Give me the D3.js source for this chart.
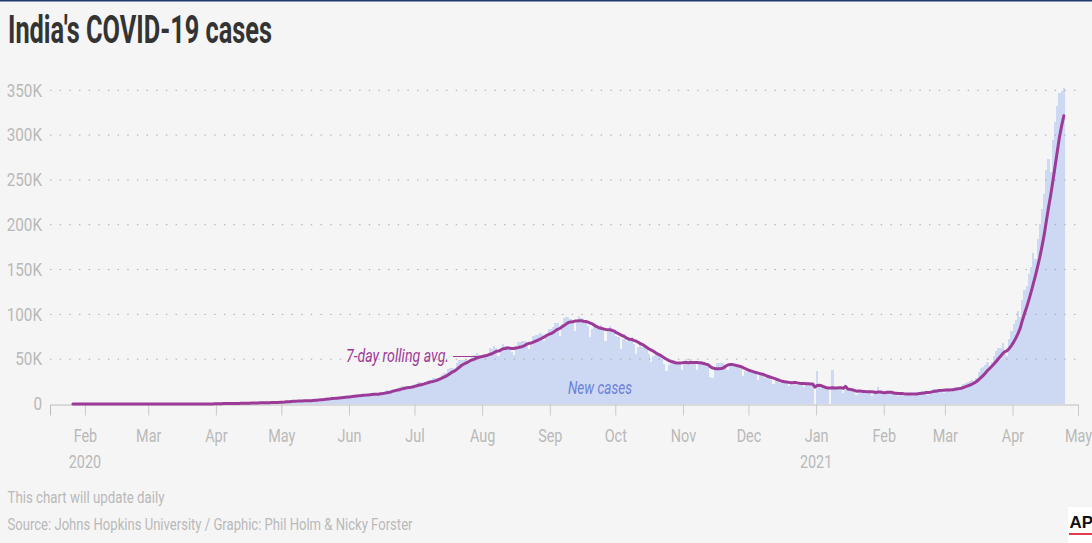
<!DOCTYPE html>
<html><head><meta charset="utf-8">
<script src="https://cdn.jsdelivr.net/npm/d3@7"></script>
<style>
html,body{margin:0;padding:0;background:#f5f5f5;}
svg{display:block;}
</style></head><body>
<svg id="chart" width="1092" height="543"></svg>
<script>
// ---- DATA (daily new cases, first value = seriesStart) ----
const seriesStart = "2020-01-22";
const cases2020Jan = [0,0,0,0,0,0,0,0,1,0];
const cases2020Feb = [0,1,1,0,0,0,0,0,0,0,0,0,0,0,0,0,0,0,0,0,0,0,0,0,0,0,0,0,0];
const cases2020Mar = [1,1,22,2,1,3,5,4,13,6,11,9,20,11,6,23,14,38,50,86,66,103,37,121,70,160,100,74,227,146,601];
const cases2020Apr = [545,478,578,694,481,565,809,591,896,768,758,1248,1034,883,1061,922,1371,1580,1239,1537,1292,1667,1408,1835,1607,1568,1902,1705,1801,2396];
const cases2020May = [2564,2952,3656,2971,3602,3344,3344,3113,4353,3604,3524,3763,3942,3787,4864,5050,4630,6147,5553,5720,6028,6654,6767,6977,6535,6387,7466,7964,8336,8782,8392];
const cases2020Jun = [8171,9633,9851,9887,9971,9983,9987,9985,10956,11458,11929,11502,10667,10032,12881,13586,14516,15413,14821,14933,15968,16922,17296,18552,19906,19459,18522,18653,19148,20903];
const cases2020Jul = [22771,24850,24248,22252,22752,24879,26506,27114,28637,28701,28498,29429,32695,34956,34884,38902,40425,40243,37148,45720,49310,48916,48661,49931,47704,48513,52123,55079,57118,54735,52972];
const cases2020Aug = [52050,52509,56282,62538,61537,64399,62064,53601,60963,66999,64553,65002,63490,57981,55079,64531,69652,68898,69878,70488,69239,61408,67151,75760,77266,76472,78761,78512,69921,78357,83883];
const cases2020Sep = [83341,86432,90632,90802,75809,89706,95735,96551,97570,94372,92071,81911,90123,97894,96424,93337,92605,86961,75083,83347,86508,86052,85362,88600,82170,70589,80472,86821,81484,79476];
const cases2020Oct = [75829,74442,61267,72049,78524,70496,73272,74383,66732,55342,63509,67708,63371,62212,61871,55722,46790,54044,55839,53370,54366,50129,45148,36469,43893,49881,48648,48268,46963,45231,38310];
const cases2020Nov = [46253,50210,47638,50357,45674,45903,38073,44281,47905,44879,44684,41100,30548,29164,38617,45576,45882,46232,45209,44059,37975,44376,44489,43082,41322,41810,38772,31118,36604,35551];
const cases2020Dec = [36595,36652,36011,32981,26567,32080,31521,29398,30006,30254,27071,22065,26382,24010,22890,25152,26624,24337,19556,23950,24712,24500,21000,24200,23000,19000,22500,23800,22000,21500,0];
const cases2021Jan = [36500,20035,18177,16505,16375,18088,0,38000,18139,18222,18645,16311,12584,15968,16946,15590,15158,13788,10064,13823,15223,14545,14256,14849,13203,9102,12689,11666,18855,13083,11427];
const cases2021Feb = [11039,12899,12408,12713,11713,12059,9110,11067,12923,9309,12143,12194,11649,9121,11610,12881,13193,13993,13993,14199,10584,13742,16738,16577,16488,16752,15510,12286];
const cases2021Mar = [14989,17407,16838,18327,18711,18599,15388,17921,22854,23285,24882,25320,26291,24492,28903,35871,39726,40953,43846,46951,40715,47262,53476,59118,62258,62714,68020,56211,53480,72330,81466];
const cases2021Apr = [89129,93249,103558,96982,115736,126789,131968,145384,152879,168912,161736,184372,200739,217353,234692,261500,273810,259170,295041,314835,332730,346786,349691,352991];

const yTickValues = [0,50000,100000,150000,200000,250000,300000,350000];
const yTickLabels = ["0","50K","100K","150K","200K","250K","300K","350K"];
const monthNames = ["Jan","Feb","Mar","Apr","May","Jun","Jul","Aug","Sep","Oct","Nov","Dec"];
const yearTickDates = ["2020-02-01","2021-01-01"];
const yearTickLabels = ["2020","2021"];

const titleText = "India's COVID-19 cases";
const noteText = "This chart will update daily";
const sourceText = "Source: Johns Hopkins University / Graphic: Phil Holm & Nicky Forster";
const avgLabel = "7-day rolling avg.";
const barLabel = "New cases";

// ---- BUILD ----
const allCases = [].concat(cases2020Jan,cases2020Feb,cases2020Mar,cases2020Apr,cases2020May,cases2020Jun,
  cases2020Jul,cases2020Aug,cases2020Sep,cases2020Oct,cases2020Nov,cases2020Dec,
  cases2021Jan,cases2021Feb,cases2021Mar,cases2021Apr);
const start = new Date(seriesStart + "T00:00:00Z");
const daily = allCases.map((v,i)=>({date:d3.utcDay.offset(start,i), value:v}));
const avg = [];
for (let i=4;i<daily.length;i++){
  const w = allCases.slice(Math.max(0,i-6), i+1);
  avg.push({date:daily[i].date, value:d3.mean(w)});
}

const FONT = "'Liberation Sans Narrow', 'Roboto', sans-serif";
const AXIS_COLOR = "#b9b9b9";
const svg = d3.select("#chart");
svg.append("rect").attr("width",1092).attr("height",543).attr("fill","#f5f5f5");
svg.append("rect").attr("x",0).attr("y",0).attr("width",1092).attr("height",1.5).attr("fill","#1e3a6d");

const x = d3.scaleUtc().domain([new Date("2020-01-16T00:00:00Z"), new Date("2021-05-01T00:00:00Z")]).range([50,1078]);
const y = d3.scaleLinear().domain([0,350000]).range([404,90.3]);
const step = x(d3.utcDay.offset(start,1)) - x(start);

// bars
svg.append("g").selectAll("rect").data(daily).join("rect")
  .attr("x",d=>x(d.date))
  .attr("width",d=>x(d3.utcDay.offset(d.date,1))-x(d.date))
  .attr("y",d=>y(d.value))
  .attr("height",d=>y(0)-y(d.value))
  .attr("fill","#cdd8f3")
  .attr("shape-rendering","crispEdges");

// grid
svg.append("g").selectAll("line").data(yTickValues.filter(v=>v>0)).join("line")
  .attr("x1",50).attr("x2",1078)
  .attr("y1",d=>y(d)).attr("y2",d=>y(d))
  .attr("stroke","#a8a8a8").attr("stroke-width",1)
  .attr("stroke-dasharray","1.4 8.26");

// x axis
const xAxis = d3.axisBottom(x)
  .ticks(d3.utcMonth.every(1))
  .tickSize(11)
  .tickPadding(14)
  .tickFormat(d=>monthNames[d.getUTCMonth()]);
const gx = svg.append("g").attr("transform","translate(0,404.5)").call(xAxis);
gx.select(".domain").attr("stroke","#bdbdbd");
gx.selectAll(".tick line").attr("stroke","#c9c9c9");
gx.selectAll(".tick text").attr("fill",AXIS_COLOR).style("font-family",FONT).style("font-size","18px")
  .attr("transform","scale(0.8,1)");
svg.append("g").selectAll("text").data(yearTickDates).join("text")
  .attr("transform",d=>`translate(${x(new Date(d+"T00:00:00Z"))},467.5) scale(0.8,1)`)
  .attr("text-anchor","middle")
  .attr("fill",AXIS_COLOR).style("font-family",FONT).style("font-size","18px")
  .text((d,i)=>yearTickLabels[i]);

// y axis labels
const yAxis = d3.axisLeft(y).tickValues(yTickValues).tickSize(0).tickPadding(8)
  .tickFormat((d,i)=>yTickLabels[i]);
const gy = svg.append("g").attr("transform","translate(50,0)").call(yAxis);
gy.select(".domain").remove();
gy.selectAll(".tick text").attr("fill",AXIS_COLOR).style("font-family",FONT).style("font-size","18px")
  .attr("x",0).attr("transform","translate(-8,0) scale(0.85,1)");

// avg line
svg.append("path").datum(avg)
  .attr("fill","none").attr("stroke","#9c3a98").attr("stroke-width",3)
  .attr("stroke-linejoin","round").attr("stroke-linecap","round")
  .attr("d", d3.line().x(d=>x(d.date)+step/2).y(d=>y(d.value)));

// annotations
svg.append("text").attr("x",449).attr("y",361.5).attr("text-anchor","end")
  .attr("fill","#9c3a98").style("font-family",FONT).style("font-size","18px").style("font-style","italic")
  .attr("textLength",103).attr("lengthAdjust","spacingAndGlyphs").text(avgLabel);
svg.append("line").attr("x1",453).attr("x2",483).attr("y1",356.5).attr("y2",356.5)
  .attr("stroke","#9c3a98").attr("stroke-width",1);
svg.append("text").attr("x",568).attr("y",393.5)
  .attr("fill","#6a80d8").style("font-family",FONT).style("font-size","18px").style("font-style","italic")
  .attr("textLength",64).attr("lengthAdjust","spacingAndGlyphs").text(barLabel);

// title
svg.append("text").attr("x",8).attr("y",42.5)
  .attr("fill","#333333").style("font-family",FONT).style("font-size","38px").style("font-weight","bold")
  .attr("textLength",264).attr("lengthAdjust","spacingAndGlyphs").text(titleText);

// footer
svg.append("text").attr("x",7.5).attr("y",502.5)
  .attr("fill",AXIS_COLOR).style("font-family",FONT).style("font-size","17px")
  .attr("textLength",157).attr("lengthAdjust","spacingAndGlyphs").text(noteText);
svg.append("text").attr("x",7.5).attr("y",530)
  .attr("fill",AXIS_COLOR).style("font-family",FONT).style("font-size","17px")
  .attr("textLength",405).attr("lengthAdjust","spacingAndGlyphs").text(sourceText);

// AP logo
svg.append("rect").attr("x",1068).attr("y",507).attr("width",24).attr("height",36).attr("fill","#ffffff");
svg.append("text").attr("x",1069.5).attr("y",527.5)
  .attr("fill","#111").style("font-family","'Liberation Sans', Arial, sans-serif").style("font-size","17px").style("font-weight","bold")
  .text("AP");
svg.append("rect").attr("x",1069).attr("y",533).attr("width",23).attr("height",2).attr("fill","#e23b4e");
</script>
</body></html>
